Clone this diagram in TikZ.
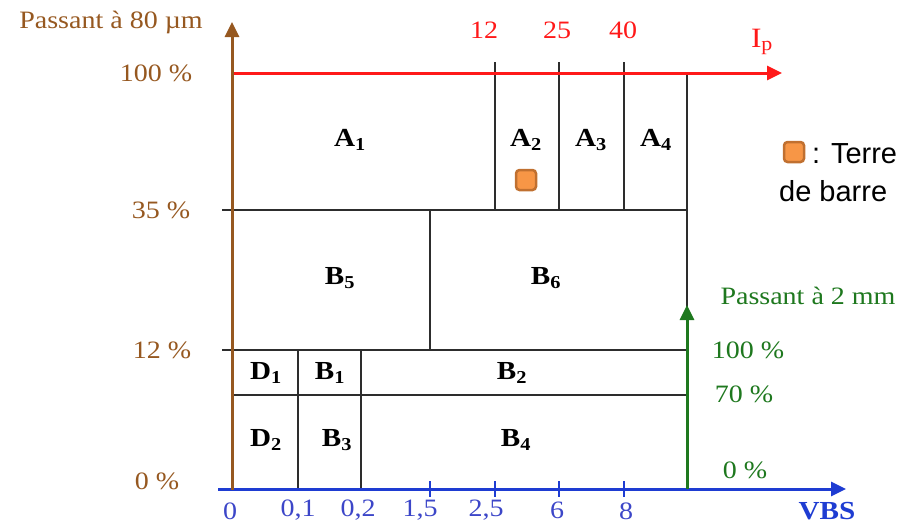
\documentclass[tikz,border=0pt]{standalone}
\usepackage{fontspec}
\setmainfont{Liberation Serif}
\newfontfamily\legfont{Liberation Sans}
\usetikzlibrary{arrows.meta}
\definecolor{axbrown}{RGB}{150,88,32}
\definecolor{axred}{RGB}{255,25,25}
\definecolor{axblue}{RGB}{30,60,210}
\definecolor{axgreen}{RGB}{30,120,30}
\definecolor{txblue}{RGB}{60,70,200}
\definecolor{orfill}{RGB}{247,150,70}
\definecolor{ordraw}{RGB}{192,112,48}
\definecolor{gridc}{RGB}{45,45,45}
\newcommand\sx[1]{\scalebox{1.12}[1]{#1}}
\begin{document}
\begin{tikzpicture}[x=1pt,y=-1pt,
  axis/.style={line width=3pt,-{Triangle[length=15pt,width=14pt]}},
  gridline/.style={line width=1.8pt,draw=gridc},
  lbl/.style={inner sep=0pt,font=\fontsize{25}{30}\selectfont},
  cell/.style={inner sep=0pt,font=\fontsize{26}{30}\selectfont\bfseries},
  sq/.style={draw=ordraw,fill=orfill,line width=2.5pt,rounded corners=3.5pt,minimum size=20pt,inner sep=0pt},
  leg/.style={inner sep=0pt,anchor=west,font=\legfont\fontsize{29}{34}\selectfont}]
\useasboundingbox (0,0) rectangle (904,525);
% grid
\draw[gridline] (495,62) -- (495,210);
\draw[gridline] (559,62) -- (559,210);
\draw[gridline] (624,62) -- (624,210);
\draw[gridline] (687,73) -- (687,330);
\draw[gridline] (222,210) -- (687,210);
\draw[gridline] (430,210) -- (430,350);
\draw[gridline] (222,350) -- (687,350);
\draw[gridline] (232,395) -- (687,395);
\draw[gridline] (298,350) -- (298,489);
\draw[gridline] (361,350) -- (361,489);
% blue ticks
\foreach \t in {430,495,559,624} \draw[line width=1.8pt,axblue] (\t,481) -- (\t,497);
% axes
\coordinate (o) at (232,490);
\coordinate (btop) at (232,22);
\coordinate (rs) at (232,73);
\coordinate (re) at (782,73);
\coordinate (bs) at (218,489);
\coordinate (be) at (846,489);
\coordinate (gs) at (687,489);
\coordinate (ge) at (687,305);
\draw[axis,axred] (rs) -- (re);
\draw[axis,axblue] (bs) -- (be);
\draw[axis,axbrown] (o) -- (btop);
\draw[axis,axgreen] (gs) -- (ge);
% brown labels
\node[lbl,text=axbrown] (pb) at (111,22) {\sx{Passant à 80 µm}};
\node[lbl,text=axbrown] (l100) at (156,73) {\sx{100 \%}};
\node[lbl,text=axbrown] (l35) at (161,210) {\sx{35 \%}};
\node[lbl,text=axbrown] (l12) at (162,350) {\sx{12 \%}};
\node[lbl,text=axbrown] (l0) at (157,481) {\sx{0 \%}};
% red labels
\node[lbl,text=axred] (r12) at (484,30) {\sx{12}};
\node[lbl,text=axred] (r25) at (557,30) {\sx{25}};
\node[lbl,text=axred] (r40) at (623,30) {\sx{40}};
\node[lbl,text=axred,font=\fontsize{28}{32}\selectfont] (ip) at (762,42) {\sx{I\textsubscript{p}}};
% blue labels
\node[lbl,text=txblue] (b0) at (230,511) {\sx{0}};
\node[lbl,text=txblue] (b01) at (298,510) {\sx{0,1}};
\node[lbl,text=txblue] (b02) at (358,510) {\sx{0,2}};
\node[lbl,text=txblue] (b15) at (420,510) {\sx{1,5}};
\node[lbl,text=txblue] (b25) at (486,510) {\sx{2,5}};
\node[lbl,text=txblue] (b6) at (557,510) {\sx{6}};
\node[lbl,text=txblue] (b8) at (626,511) {\sx{8}};
\node[lbl,text=axblue,font=\fontsize{26}{30}\selectfont\bfseries] (vbs) at (827,511) {\sx{VBS}};
% green labels
\node[lbl,text=axgreen,font=\fontsize{25}{30}\selectfont] (pg) at (808,296) {\sx{Passant à 2 mm}};
\node[lbl,text=axgreen] (g100) at (748,350) {\sx{100 \%}};
\node[lbl,text=axgreen] (g70) at (744,394) {\sx{70 \%}};
\node[lbl,text=axgreen] (g0) at (745,470) {\sx{0 \%}};
% cells
\node[cell] (A1) at (350,140) {\sx{A\textsubscript{1}}};
\node[cell] (A2) at (526,140) {\sx{A\textsubscript{2}}};
\node[cell] (A3) at (591,140) {\sx{A\textsubscript{3}}};
\node[cell] (A4) at (656,140) {\sx{A\textsubscript{4}}};
\node[cell] (B5) at (340,278) {\sx{B\textsubscript{5}}};
\node[cell] (B6) at (546,278) {\sx{B\textsubscript{6}}};
\node[cell] (D1) at (266,373) {\sx{D\textsubscript{1}}};
\node[cell] (B1) at (330,373) {\sx{B\textsubscript{1}}};
\node[cell] (B2) at (512,373) {\sx{B\textsubscript{2}}};
\node[cell] (D2) at (266,440) {\sx{D\textsubscript{2}}};
\node[cell] (B3) at (337,440) {\sx{B\textsubscript{3}}};
\node[cell] (B4) at (516,440) {\sx{B\textsubscript{4}}};
% orange squares and legend
\node[sq] (s1) at (526,180) {};
\node[sq] (s2) at (794,152) {};
\node[leg] (t1) at (812,154) {: Terre};
\node[leg] (t2) at (779,191) {de barre};
\end{tikzpicture}
\end{document}
